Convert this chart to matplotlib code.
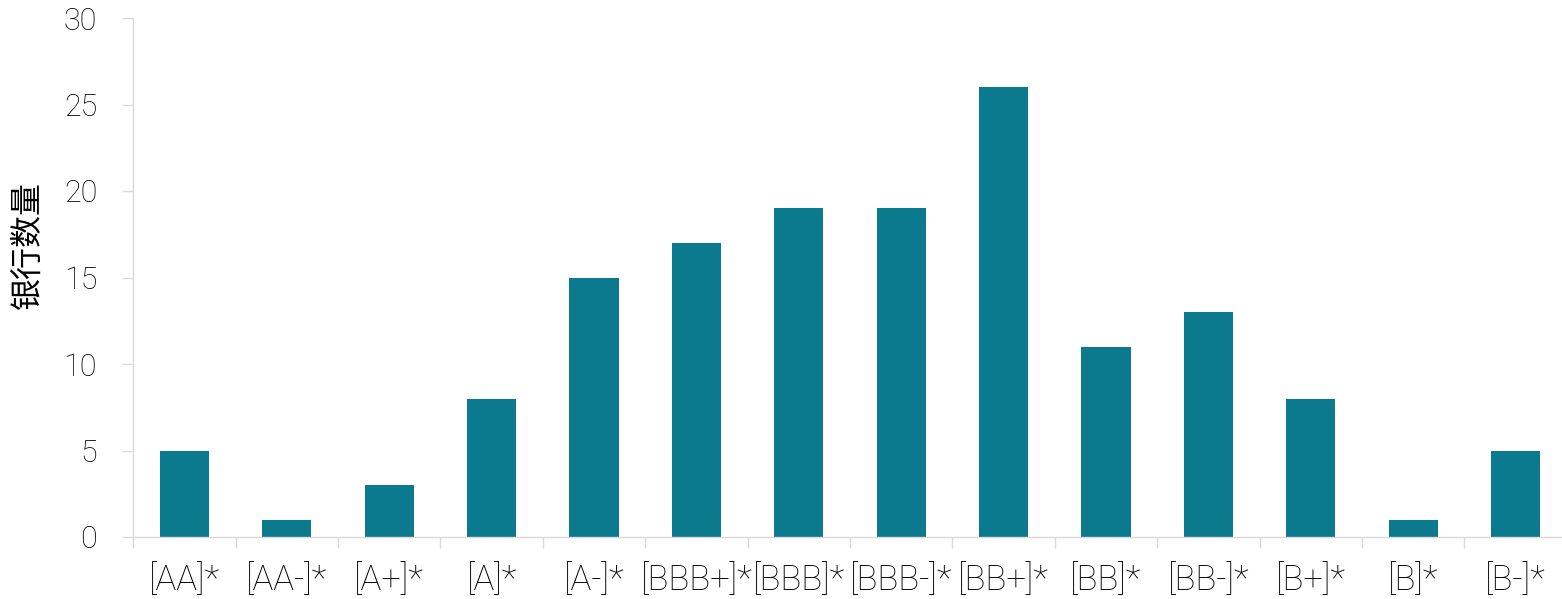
import matplotlib
matplotlib.use("Agg")
import matplotlib.pyplot as plt
from matplotlib.ticker import FixedLocator, MultipleLocator
import numpy as np

categories = ["[AA]*", "[AA-]*", "[A+]*", "[A]*", "[A-]*", "[BBB+]*", "[BBB]*",
              "[BBB-]*", "[BB+]*", "[BB]*", "[BB-]*", "[B+]*", "[B]*", "[B-]*"]
bank_counts = [5, 1, 3, 8, 15, 17, 19, 19, 26, 11, 13, 8, 1, 5]
y_label = "银行数量"

bar_color = "#0b7a8f"
axis_color = "#d9d9d9"
text_color = "#000000"

plt.rcParams["font.family"] = ["Roboto", "Noto Sans CJK SC", "DejaVu Sans"]

fig = plt.figure(figsize=(15.62, 5.99), dpi=100)
ax = fig.add_axes([133.3 / 1562, 1 - 537 / 599, (1566.7 - 133.3) / 1562, (537 - 18) / 599])

x = np.arange(len(categories))
ax.bar(x, bank_counts, width=0.48, color=bar_color, zorder=2)

ax.set_xlim(-0.5, len(categories) - 0.5)
ax.set_ylim(0, 30)
ax.yaxis.set_major_locator(MultipleLocator(5))

ax.set_xticks(x)
ax.set_xticklabels(categories)
ax.xaxis.set_minor_locator(FixedLocator(np.arange(-0.5, len(categories), 1.0)))
ax.tick_params(axis="x", which="major", length=0, pad=19, labelsize=25, labelcolor=text_color)
ax.tick_params(axis="x", which="minor", length=8, width=1, color=axis_color, direction="out")
ax.tick_params(axis="y", which="major", length=8, width=1, color=axis_color, pad=18,
               labelsize=22, labelcolor=text_color)
for lbl in ax.get_xticklabels() + ax.get_yticklabels():
    lbl.set_fontweight("light")

for side in ("top", "right"):
    ax.spines[side].set_visible(False)
for side in ("left", "bottom"):
    ax.spines[side].set_color(axis_color)
    ax.spines[side].set_linewidth(1)

ax.set_ylabel(y_label, fontsize=23, color=text_color, family=["Noto Sans CJK SC", "DejaVu Sans"])
ax.yaxis.set_label_coords(-0.0618, 0.563)

fig.savefig("out.png", dpi=100)
